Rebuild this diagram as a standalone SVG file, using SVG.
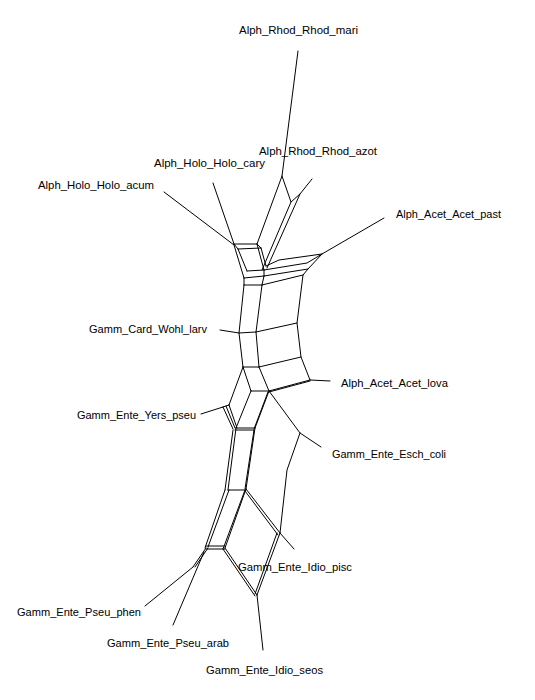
<svg xmlns="http://www.w3.org/2000/svg" width="535" height="700" viewBox="0 0 535 700">
<style>
text{font-family:"Liberation Sans",Arial,sans-serif;font-size:11.5px;fill:#000}
.e{stroke:#000;stroke-width:1;fill:none;stroke-linecap:round;stroke-linejoin:round}
</style>
<rect width="535" height="700" fill="#fff"/>
<g id="connectors" class="e">
<polyline points="298,51 282,176 257,244"/>
<polyline points="282,176 291,202 300,194 312,179"/>
<line x1="291" y1="202" x2="262" y2="270"/>
<line x1="300" y1="194" x2="267" y2="268"/>
<line x1="164" y1="192" x2="234" y2="245"/>
<line x1="213" y1="183" x2="234" y2="244"/>
<line x1="234" y1="244" x2="257" y2="244"/>
<line x1="238" y1="249" x2="261" y2="248"/>
<line x1="234" y1="244" x2="238" y2="249"/>
<line x1="257" y1="244" x2="261" y2="248"/>
<line x1="238" y1="249" x2="247" y2="271"/>
<line x1="234" y1="245" x2="244" y2="278"/>
<line x1="257" y1="244" x2="264" y2="270"/>
<line x1="261" y1="248" x2="266" y2="266"/>
<line x1="247" y1="271" x2="264" y2="270"/>
<line x1="244" y1="278" x2="264" y2="276"/>
<line x1="244" y1="285" x2="262" y2="285"/>
<line x1="244" y1="278" x2="244" y2="285"/>
<line x1="264" y1="270" x2="264" y2="276"/>
<line x1="264" y1="276" x2="262" y2="285"/>
<polyline points="266,266 279,260 322,254"/>
<polyline points="264,270 307,263 322,254"/>
<polyline points="264,276 308,269 322,254"/>
<line x1="322" y1="254" x2="384" y2="218"/>
<polyline points="244,285 239,333 243,367"/>
<polyline points="262,285 256,332 259,367"/>
<polyline points="308,269 303,275 297,323 301,357 310,380"/>
<line x1="262" y1="285" x2="303" y2="275"/>
<line x1="239" y1="333" x2="256" y2="332"/>
<line x1="256" y1="332" x2="297" y2="323"/>
<line x1="243" y1="367" x2="259" y2="367"/>
<line x1="259" y1="367" x2="301" y2="357"/>
<line x1="220" y1="330" x2="239" y2="333"/>
<line x1="310" y1="380" x2="330" y2="381"/>
<line x1="243" y1="367" x2="251" y2="391"/>
<line x1="259" y1="367" x2="269" y2="391"/>
<line x1="251" y1="391" x2="269" y2="391"/>
<line x1="269" y1="391" x2="310" y2="380"/>
<line x1="269" y1="392" x2="310" y2="381"/>
<line x1="243" y1="367" x2="229" y2="405"/>
<line x1="251" y1="391" x2="236" y2="428"/>
<line x1="201" y1="414" x2="223" y2="407"/>
<line x1="223" y1="407" x2="229" y2="405"/>
<line x1="223" y1="407" x2="233" y2="429"/>
<line x1="226" y1="406" x2="235" y2="428"/>
<line x1="229" y1="405" x2="237" y2="428"/>
<line x1="269" y1="391" x2="255" y2="428"/>
<line x1="268" y1="392" x2="254" y2="429"/>
<line x1="236" y1="428" x2="255" y2="428"/>
<line x1="235" y1="430" x2="254" y2="430"/>
<polyline points="269,391 300,433 321,447"/>
<polyline points="300,433 287,470 280,533"/>
<line x1="236" y1="428" x2="228" y2="490"/>
<line x1="233" y1="430" x2="225" y2="490"/>
<line x1="255" y1="428" x2="246" y2="489"/>
<line x1="254" y1="430" x2="245" y2="489"/>
<line x1="228" y1="490" x2="246" y2="490"/>
<line x1="225" y1="490" x2="205" y2="548"/>
<line x1="229" y1="490" x2="208" y2="547"/>
<line x1="246" y1="489" x2="225" y2="548"/>
<line x1="245" y1="490" x2="223" y2="549"/>
<line x1="246" y1="489" x2="280" y2="533"/>
<line x1="245" y1="491" x2="278" y2="535"/>
<line x1="206" y1="546" x2="225" y2="546"/>
<line x1="206" y1="549" x2="225" y2="549"/>
<line x1="225" y1="548" x2="257" y2="595"/>
<line x1="223" y1="549" x2="255" y2="596"/>
<line x1="280" y1="533" x2="257" y2="595"/>
<line x1="277" y1="533" x2="255" y2="594"/>
<line x1="280" y1="533" x2="294" y2="549"/>
<line x1="257" y1="595" x2="263" y2="650"/>
<line x1="206" y1="548" x2="193" y2="567"/>
<line x1="208" y1="548" x2="195" y2="567"/>
<line x1="193" y1="567" x2="145" y2="606"/>
<line x1="204" y1="552" x2="173" y2="625"/>
</g>
<g id="Alph_Rhod_Rhod_mari"><text x="239" y="34" textLength="119" lengthAdjust="spacingAndGlyphs">Alph_Rhod_Rhod_mari</text></g>
<g id="Alph_Rhod_Rhod_azot"><text x="259" y="155" textLength="118" lengthAdjust="spacingAndGlyphs">Alph_Rhod_Rhod_azot</text></g>
<g id="Alph_Holo_Holo_cary"><text x="154" y="167" textLength="111" lengthAdjust="spacingAndGlyphs">Alph_Holo_Holo_cary</text></g>
<g id="Alph_Holo_Holo_acum"><text x="38" y="189" textLength="116" lengthAdjust="spacingAndGlyphs">Alph_Holo_Holo_acum</text></g>
<g id="Alph_Acet_Acet_past"><text x="396" y="218" textLength="105" lengthAdjust="spacingAndGlyphs">Alph_Acet_Acet_past</text></g>
<g id="Gamm_Card_Wohl_larv"><text x="89" y="333" textLength="118" lengthAdjust="spacingAndGlyphs">Gamm_Card_Wohl_larv</text></g>
<g id="Alph_Acet_Acet_lova"><text x="341" y="387" textLength="107" lengthAdjust="spacingAndGlyphs">Alph_Acet_Acet_lova</text></g>
<g id="Gamm_Ente_Yers_pseu"><text x="77" y="419" textLength="119" lengthAdjust="spacingAndGlyphs">Gamm_Ente_Yers_pseu</text></g>
<g id="Gamm_Ente_Esch_coli"><text x="332" y="458" textLength="114" lengthAdjust="spacingAndGlyphs">Gamm_Ente_Esch_coli</text></g>
<g id="Gamm_Ente_Idio_pisc"><text x="238" y="571" textLength="114" lengthAdjust="spacingAndGlyphs">Gamm_Ente_Idio_pisc</text></g>
<g id="Gamm_Ente_Pseu_phen"><text x="17" y="616" textLength="124" lengthAdjust="spacingAndGlyphs">Gamm_Ente_Pseu_phen</text></g>
<g id="Gamm_Ente_Pseu_arab"><text x="107" y="647" textLength="122" lengthAdjust="spacingAndGlyphs">Gamm_Ente_Pseu_arab</text></g>
<g id="Gamm_Ente_Idio_seos"><text x="206" y="674" textLength="117" lengthAdjust="spacingAndGlyphs">Gamm_Ente_Idio_seos</text></g>
</svg>
